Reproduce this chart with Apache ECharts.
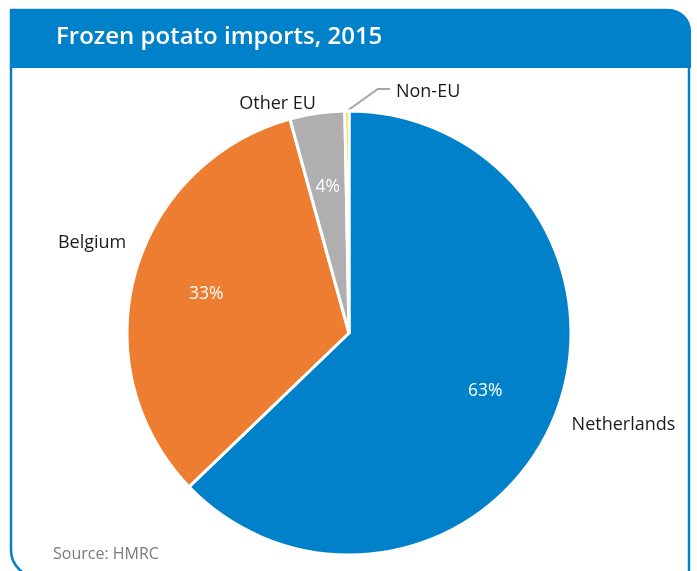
<!DOCTYPE html>
<html>
<head>
<meta charset="utf-8">
<script src="https://cdn.jsdelivr.net/npm/echarts@6/dist/echarts.min.js"></script>
<style>
  html, body { margin: 0; padding: 0; background: #ffffff; }
  #chart { width: 697px; height: 571px; }
</style>
</head>
<body>
<div id="chart"></div>
<script>
// Frozen potato imports by origin, 2015 (share of total, %)
const regions = ['Netherlands', 'Belgium', 'Other EU', 'Non-EU'];
const shares = [63, 33, 4, 0.3];
const titleText = 'Frozen potato imports, 2015';
const sourceText = 'Source: HMRC';

// Styling
const brandBlue = '#0081C9';
const sliceColors = ['#0081C9', '#ED7D31', '#AFAFAF', '#FFC000'];
const fontFamily = '"Open Sans", "Noto Sans", sans-serif';
const pieCenter = [349, 333];
const pieRadius = 222;
// small label nudges so the outer names sit clear of the slices
const labelNudge = {
  'Netherlands': [2, 2],
  'Belgium': [8, -29],
  'Other EU': [9, -2]
};

const chart = echarts.init(document.getElementById('chart'), null, { renderer: 'canvas' });

const outerData = regions.map((name, i) => {
  const item = { name: name, value: shares[i], itemStyle: { color: sliceColors[i] } };
  if (name === 'Non-EU') {
    item.labelLine = { show: true, lineStyle: { color: '#A6A6A6', width: 2 } };
  }
  return item;
});

const innerData = regions.map((name, i) => ({
  name: name,
  value: shares[i],
  label: { show: name !== 'Non-EU' }
}));

chart.setOption({
  animation: false,
  title: {
    text: titleText,
    left: 51,
    top: 20,
    textStyle: { color: '#ffffff', fontSize: 24, fontWeight: 600, fontFamily: fontFamily }
  },
  graphic: [
    {
      type: 'rect', z: 0, silent: true,
      shape: { x: 11, y: 10, width: 678, height: 567, r: [0, 22, 0, 27] },
      style: { fill: '#ffffff', stroke: brandBlue, lineWidth: 2.5 }
    },
    {
      type: 'rect', z: 1, silent: true,
      shape: { x: 10, y: 9, width: 681, height: 59, r: [0, 22, 0, 0] },
      style: { fill: brandBlue }
    },
    {
      type: 'text', z: 2, silent: true,
      left: 53, top: 546,
      style: { text: sourceText, fill: '#7a7a7a', fontSize: 16, fontFamily: fontFamily }
    }
  ],
  series: [
    {
      type: 'pie',
      center: pieCenter,
      radius: pieRadius,
      startAngle: 90,
      clockwise: true,
      silent: true,
      avoidLabelOverlap: false,
      z: 3,
      itemStyle: { borderColor: '#ffffff', borderWidth: 3 },
      emphasis: { disabled: true },
      label: {
        show: true,
        position: 'outside',
        formatter: '{b}',
        color: '#1a1a1a',
        fontSize: 18,
        fontFamily: fontFamily,
        distanceToLabelLine: 5
      },
      labelLine: { show: false, length: 8, length2: 4 },
      labelLayout: function (p) {
        const name = regions[p.dataIndex];
        if (name === 'Non-EU' && p.labelLinePoints) {
          const s = p.labelLinePoints[0];
          return {
            x: s[0] + 49,
            y: s[1] - 19,
            align: 'left',
            verticalAlign: 'middle',
            labelLinePoints: [s, [s[0] + 31, s[1] - 22], [s[0] + 43, s[1] - 22]]
          };
        }
        const n = labelNudge[name];
        return n ? { dx: n[0], dy: n[1] } : {};
      },
      data: outerData
    },
    {
      // transparent twin ring that carries the percentage labels inside the slices
      type: 'pie',
      center: pieCenter,
      radius: [0, 290],
      startAngle: 90,
      clockwise: true,
      silent: true,
      avoidLabelOverlap: false,
      z: 4,
      itemStyle: { color: 'transparent', borderWidth: 0 },
      emphasis: { disabled: true },
      label: {
        show: true,
        position: 'inside',
        formatter: '{c}%',
        color: '#ffffff',
        fontSize: 17.5,
        fontFamily: fontFamily
      },
      labelLine: { show: false },
      data: innerData
    }
  ]
});
</script>
</body>
</html>
